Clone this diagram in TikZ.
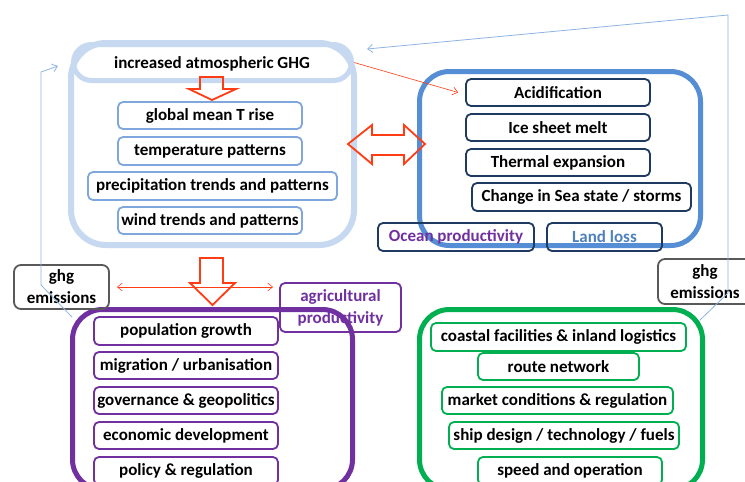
\documentclass[tikz,border=0pt]{standalone}
\usepackage{fontspec}
\setmainfont{Carlito}
\usetikzlibrary{arrows.meta,calc}
\definecolor{lblue}{HTML}{C6D9F1}
\definecolor{mblue}{HTML}{7FA7DE}
\definecolor{dblue}{HTML}{558ED5}
\definecolor{navy}{HTML}{1F3A60}
\definecolor{ored}{HTML}{FF3C14}
\definecolor{purp}{HTML}{7030A0}
\definecolor{grn}{HTML}{00B050}
\definecolor{gry}{HTML}{595959}
\definecolor{thinblue}{HTML}{8EB4E3}
\definecolor{landblue}{HTML}{4F81BD}
\newcommand\bx[8]{\node[#6, minimum width={#4-#2-#7}, minimum height={#5-#3-#7}] (#1) at ({(#2+#4)/2},{(#3+#5)/2}) {#8};}
\begin{document}
\begin{tikzpicture}[x=1pt,y=-1pt,
  txt/.style={font=\bfseries\fontsize{17}{22}\selectfont, align=center, inner sep=0pt},
  bigbox/.style={draw, rounded corners=30pt, line width=5pt, inner sep=0pt},
  sbox/.style={txt, draw, rounded corners=5pt, line width=1.8pt},
  bluebox/.style={sbox, draw=mblue},
  navybox/.style={sbox, draw=navy},
  purpbox/.style={sbox, draw=purp},
  grnbox/.style={sbox, draw=grn},
  ghgbox/.style={sbox, draw=gry, rounded corners=7pt},
  hollow/.style={draw=ored, line width=1.8pt, line join=miter},
  thinred/.style={draw=ored, line width=0.6pt},
  thinbl/.style={draw=thinblue, line width=0.8pt},
  barb/.style={-{Straight Barb[length=5pt,width=8pt]}}
]
\useasboundingbox (0,0) rectangle (745,482);
\fill[white] (0,0) rectangle (745,482);

% big containers
\bx{tl}{68}{40}{357}{248}{bigbox, draw=lblue, line width=6pt, rounded corners=35pt}{6}{}
\bx{pill}{71}{42}{354}{83}{bigbox, draw=lblue, rounded corners=18pt}{5}{}
\node[txt] (ghg) at (212,64) {increased atmospheric GHG};
\bx{ocean}{417}{69}{703}{248}{bigbox, draw=dblue}{5}{}
\bx{soc}{70}{307}{355}{492}{bigbox, draw=purp}{5}{}
\bx{ship}{417}{307}{705}{492}{bigbox, draw=grn}{5}{}

% climate boxes
\bx{gmt}{117}{101}{303}{130}{bluebox}{2}{global mean T rise}
\bx{tp}{117}{136}{303}{166}{bluebox}{2}{temperature patterns}
\bx{pp}{87}{171}{338}{201}{bluebox}{2}{precipitation trends and patterns}
\bx{wind}{117}{206}{303}{235}{bluebox}{2}{wind trends and patterns}

% ocean boxes
\bx{acid}{465}{78}{651}{107}{navybox}{2}{Acidification}
\bx{ice}{465}{113}{651}{142}{navybox}{2}{Ice sheet melt}
\bx{therm}{465}{148}{651}{177}{navybox}{2}{Thermal expansion}
\bx{sea}{471}{182}{692}{212}{navybox}{2}{Change in Sea state / storms}
\bx{oprod}{377}{222}{535}{252}{navybox}{2}{\textcolor{purp}{Ocean productivity}}
\bx{land}{546}{222}{663}{252}{navybox}{2}{\textcolor{landblue}{Land loss}}

% society boxes
\bx{pop}{93}{316}{279}{346}{purpbox}{2}{population growth}
\bx{mig}{93}{351}{279}{380}{purpbox}{2}{migration / urbanisation}
\bx{gov}{93}{386}{279}{415}{purpbox}{2}{governance \& geopolitics}
\bx{eco}{93}{421}{279}{450}{purpbox}{2}{economic development}
\bx{pol}{93}{456}{279}{486}{purpbox}{2}{policy \& regulation}
\bx{agri}{279}{282}{402}{333}{purpbox}{2}{\textcolor{purp}{agricultural}\\\textcolor{purp}{productivity}}

% shipping boxes
\bx{coast}{430}{322}{687}{352}{grnbox}{2}{coastal facilities \& inland logistics}
\bx{route}{477}{352}{640}{381}{grnbox}{2}{route network}
\bx{market}{441}{386}{674}{415}{grnbox}{2}{market conditions \& regulation}
\bx{design}{448}{421}{680}{450}{grnbox}{2}{ship design / technology / fuels}
\bx{speed}{477}{456}{663}{486}{grnbox}{2}{speed and operation}

% ghg emission boxes
\bx{ghgL}{13}{264}{110}{310}{ghgbox}{2}{ghg\\emissions}
\bx{ghgR}{657}{258}{753}{305}{ghgbox}{2}{ghg\\emissions}

% hollow arrows
\draw[hollow] (200,77) -- (223,77) -- (223,89) -- (236,89) -- (212,100) -- (189,89) -- (200,89) -- cycle;
\draw[hollow] (200,258) -- (223,258) -- (223,283) -- (235,283) -- (212.5,305) -- (190,283) -- (200,283) -- cycle;
\draw[hollow] (348,144) -- (372,125) -- (372,135) -- (404,135) -- (404,125) -- (425,144) -- (404,164) -- (404,155) -- (372,155) -- (372,164) -- cycle;

% thin red arrows
\draw[thinred, barb] (pill.east) -- ($(acid.west)+(-7,0)$);
\draw[thinred, {Straight Barb[length=5pt,width=8pt]}-{Straight Barb[length=5pt,width=8pt]}] ($(ghgL.east)+(7,0)$) -- ($(ghgL.east -| agri.west)+(-6,0)$);

% thin blue feedback lines
\coordinate (l1) at (72,317);
\coordinate (l2) at (41,285);
\coordinate (l3) at (41,72);
\coordinate (l4) at (58,66);
\draw[thinbl, barb] (l1) -- (l2) -- (l3) -- (l4);
\coordinate (r1) at (700,320);
\coordinate (r2) at (728,293);
\coordinate (r3) at (728,15);
\coordinate (r4) at (367,49);
\draw[thinbl, barb] (r1) -- (r2) -- (r3) -- (r4);
\end{tikzpicture}
\end{document}
